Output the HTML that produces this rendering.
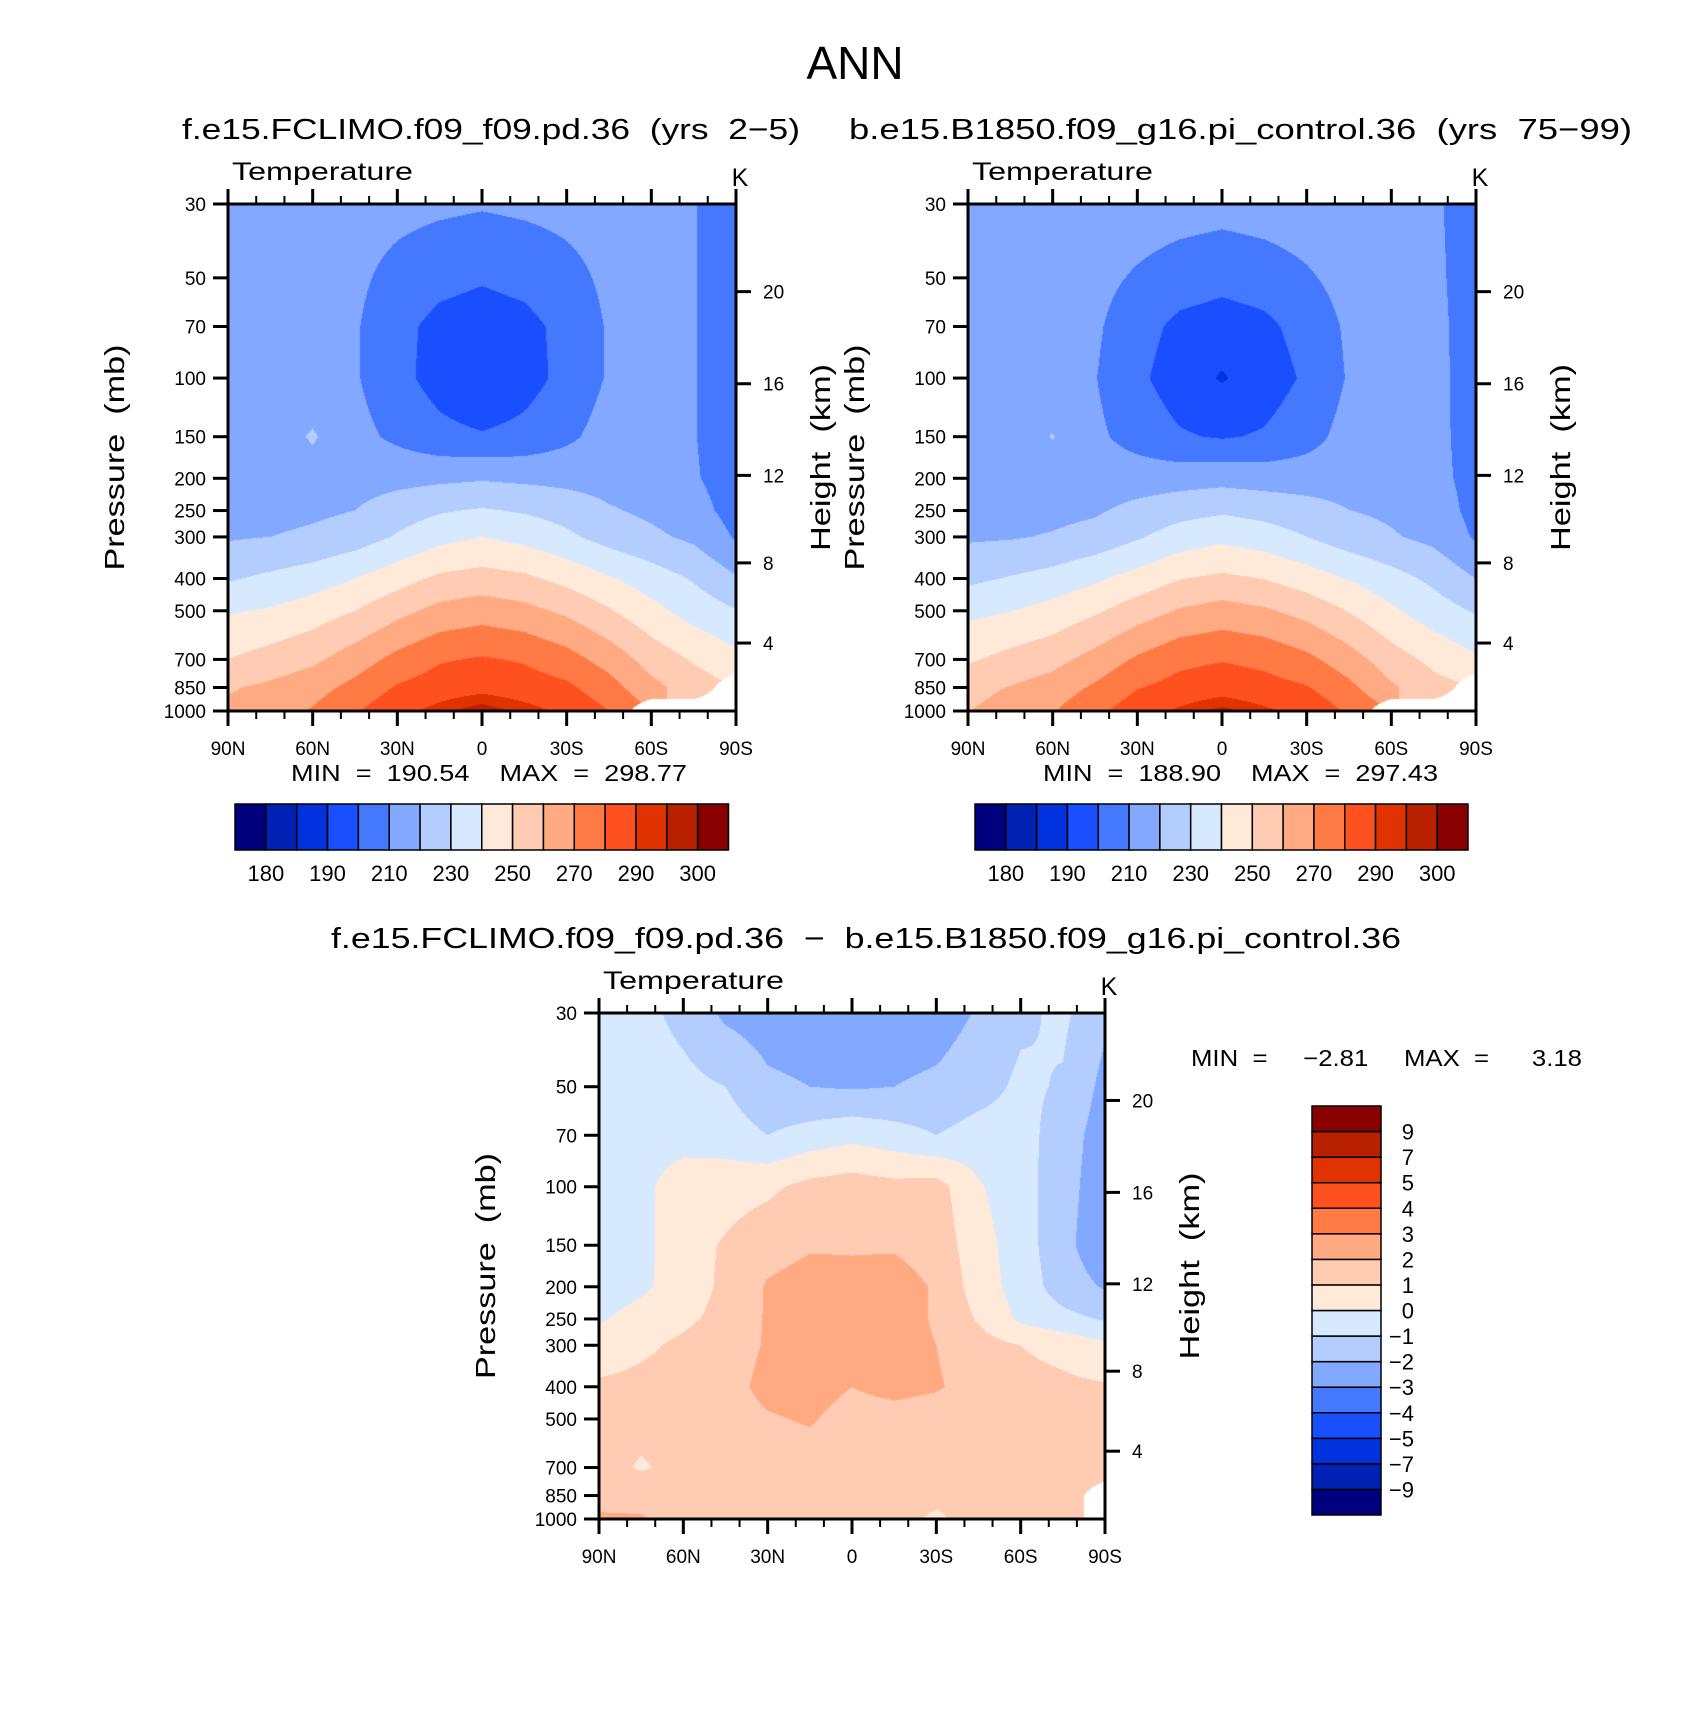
<!DOCTYPE html>
<html><head><meta charset="utf-8">
<style>
html,body{margin:0;padding:0;background:#fff;}
#root{position:relative;width:1702px;height:1727px;overflow:hidden;background:#fff;font-family:"Liberation Sans",sans-serif;}
canvas{position:absolute;}
svg{position:absolute;left:0;top:0;}
svg text{white-space:pre;}
</style></head>
<body>
<div id="root">
<canvas id="c1"></canvas>
<canvas id="c2"></canvas>
<canvas id="c3"></canvas>
<svg id="ov" width="1702" height="1727"></svg>
</div>
<script>
// ---- data ----
const lats = [90,75,60,45,30,15,0,-15,-30,-45,-60,-75,-90];
const plevs = [30,50,70,100,150,200,250,300,400,500,700,850,1000];
const tempLevels = [180,185,190,200,210,220,230,240,250,260,270,280,290,295,300];
const tempLabels = ['180','190','210','230','250','270','290','300'];
const diffLevels = [-9,-7,-5,-4,-3,-2,-1,0,1,2,3,4,5,7,9];
const diffLabels = ['−9','−7','−5','−4','−3','−2','−1','0','1','2','3','4','5','7','9'];
const palette = ['#00007f','#0022b4','#0033dd','#1a4fff','#4478ff','#82a9ff','#b4cdff','#d7e9ff','#ffeada','#ffcbb2','#ffaa82','#ff7a45','#ff5020','#e03300','#b82000','#880000'];
const pressureTicks = [30,50,70,100,150,200,250,300,400,500,700,850,1000];
const heightTickLabels = ['20','16','12','8','4'];
const heightTickP = [55,104,196,359,625];
const latTicks = [90,60,30,0,-30,-60,-90];
const latTickLabels = ['90N','60N','30N','0','30S','60S','90S'];
const N = NaN;
const tempPD = [
[214,214,214,214,213,212,211,212,213,214,214,210.5,204],
[214,214,214,212,207,203,201,203,207,212,214,210.5,204],
[214,214,214,211,203,197,195,197,203,211,214,210.5,204],
[214,214,214,211,203,196,190.6,196,203,211,214,210.5,204],
[214,215,221,213,208,203,201,203,208,214,214,210.5,204],
[214,214,216,216,217,218,219,218,217,216,215,211,205],
[216,216.5,218,220,225,229,231,229,226,221,218,214,206],
[219,220,222,225,231,237,240,237,232,226,222,218,209],
[229,232,235,240,246,252,254,252,247,241,235,229,221],
[239,241,245,250,257,263,265.5,263,258,251,243,236,230.5],
[250,254,258,265,273,279,281,279,274,266,256,249,243],
[259,262,266,273,281,285,287,285,282,274,263,255,N],
[262,265,271,279,287,293,298.5,293,288,280,N,N,N]];
const tempDiff = [
[-0.5,-0.7,-1.3,-2.2,-2.5,-2.6,-2.6,-2.6,-2.5,-1.9,-1.2,-0.8,-1.8],
[-0.4,-0.5,-0.7,-1.0,-1.8,-2.0,-2.1,-2.0,-1.8,-1.4,-0.8,-1.1,-2.3],
[-0.3,-0.3,-0.3,-0.5,-1.0,-0.6,-0.3,-0.6,-1.0,-0.6,-0.6,-1.5,-2.5],
[-0.5,-0.2,0.4,0.6,0.8,1.3,1.5,1.3,1.4,0.1,-0.6,-1.6,-2.6],
[-0.6,-0.3,0.6,1.1,1.6,1.9,1.9,1.9,1.6,0.4,-0.5,-1.7,-2.7],
[-0.6,-0.2,0.5,1.2,2.1,2.4,2.3,2.4,1.9,0.5,-0.4,-1.5,-2.1],
[-0.1,0.4,0.8,1.3,2.1,2.5,2.4,2.4,1.9,0.9,-0.2,-0.7,-1.1],
[0.3,0.8,1.2,1.5,2.1,2.5,2.4,2.4,2.0,1.4,1.0,0.7,0.2],
[1.2,1.3,1.4,1.6,2.3,2.4,2.0,2.3,2.1,1.6,1.3,1.2,1.1],
[1.4,1.3,1.4,1.5,1.9,2.1,1.6,1.6,1.5,1.5,1.4,1.4,1.4],
[1.4,0.9,1.3,1.5,1.5,1.5,1.5,1.5,1.5,1.5,1.5,1.5,1.5],
[1.5,1.6,1.5,1.5,1.5,1.5,1.5,1.5,1.3,1.4,1.5,1.5,N],
[2.2,2.1,1.6,1.5,1.5,1.5,1.5,1.4,0.8,1.5,1.5,1.5,N]];
const tempPI = tempPD.map((r,j)=>r.map((v,i)=>v - tempDiff[j][i]));

// ---- layout ----
const plots = [
 {id:'c1',x0:228,x1:736,y0:204,y1:711,field:tempPD,levels:tempLevels,name:'plot1'},
 {id:'c2',x0:968,x1:1476,y0:204,y1:711,field:tempPI,levels:tempLevels,name:'plot2'},
 {id:'c3',x0:599,x1:1105,y0:1013,y1:1519,field:tempDiff,levels:diffLevels,name:'diff'}];
const lnP = plevs.map(Math.log);
const LP0 = Math.log(30), LP1 = Math.log(1000);
function yOf(p,pl){return pl.y0 + (Math.log(p)-LP0)/(LP1-LP0)*(pl.y1-pl.y0);}
function xOf(lat,pl){return pl.x0 + (90-lat)/180*(pl.x1-pl.x0);}
function hex(c){return [parseInt(c.substr(1,2),16),parseInt(c.substr(3,2),16),parseInt(c.substr(5,2),16)];}
const rgb = palette.map(hex);

function sample(field,fi,lp){
  let i=Math.min(Math.floor(fi),lats.length-2); let tx=fi-i;
  let j=0; while(j<lnP.length-2 && lp>lnP[j+1]) j++;
  let ty=(lp-lnP[j])/(lnP[j+1]-lnP[j]); ty=Math.max(0,Math.min(1,ty));
  const c=[[field[j][i],(1-tx)*(1-ty)],[field[j][i+1],tx*(1-ty)],[field[j+1][i],(1-tx)*ty],[field[j+1][i+1],tx*ty]];
  let s=0,w=0; for(const [v,ww] of c){ if(!isNaN(v)){s+=v*ww;w+=ww;} }
  if(w<0.5) return NaN; return s/w;
}
function render(pl){
  const cv=document.getElementById(pl.id);
  const W=pl.x1-pl.x0, H=pl.y1-pl.y0;
  cv.width=W; cv.height=H; cv.style.left=pl.x0+'px'; cv.style.top=pl.y0+'px';
  const ctx=cv.getContext('2d'); const img=ctx.createImageData(W,H);
  for(let py=0;py<H;py++){
    const lp=LP0+(py+0.5)/H*(LP1-LP0);
    for(let px=0;px<W;px++){
      const fi=(px+0.5)/W*(lats.length-1);
      const v=sample(pl.field,fi,lp); const k=(py*W+px)*4;
      let col=[255,255,255];
      if(!isNaN(v)){ let idx=0; while(idx<pl.levels.length && v>=pl.levels[idx]) idx++; col=rgb[idx]; }
      img.data[k]=col[0];img.data[k+1]=col[1];img.data[k+2]=col[2];img.data[k+3]=255;
    }
  }
  ctx.putImageData(img,0,0);
}
plots.forEach(render);

// ---- overlay ----
const NS='http://www.w3.org/2000/svg';
const ov=document.getElementById('ov');
function el(tag,attrs,parent){const e=document.createElementNS(NS,tag);for(const k in attrs)e.setAttribute(k,attrs[k]);(parent||ov).appendChild(e);return e;}
function txt(s,x,y,size,anchor,parent,extra){const t=el('text',Object.assign({x:x,y:y,'font-size':size,'text-anchor':anchor||'start',fill:'#000','font-family':'Liberation Sans, sans-serif'},extra||{}),parent);t.textContent=s;return t;}

const title=txt('ANN',855,79,46,'middle');


const st1=txt('f.e15.FCLIMO.f09_f09.pd.36  (yrs  2−5)',182,139,29,'start',null,{textLength:618,lengthAdjust:'spacingAndGlyphs'});


const st2=txt('b.e15.B1850.f09_g16.pi_control.36  (yrs  75−99)',849,139,29,'start',null,{textLength:783,lengthAdjust:'spacingAndGlyphs'});


const st3=txt('f.e15.FCLIMO.f09_f09.pd.36  −  b.e15.B1850.f09_g16.pi_control.36',331,948,29,'start',null,{textLength:1070,lengthAdjust:'spacingAndGlyphs'});



plots.forEach(pl=>{
  const g=el('g',{});
  
  
  el('rect',{x:pl.x0,y:pl.y0,width:pl.x1-pl.x0,height:pl.y1-pl.y0,fill:'none',stroke:'#000','stroke-width':3},g);
  for(let lat=90;lat>=-90;lat-=10){
    const x=xOf(lat,pl); const major=(lat%30===0); const L=major?15:8;
    el('line',{x1:x,x2:x,y1:pl.y1,y2:pl.y1+L,stroke:'#000','stroke-width':major?3:2},g);
    el('line',{x1:x,x2:x,y1:pl.y0,y2:pl.y0-L,stroke:'#000','stroke-width':major?3:2},g);
  }
  latTicks.forEach((lat,k)=>{
    const t=txt(latTickLabels[k],xOf(lat,pl),pl.y1+44,19,'middle',g);
    
    
  });
  pressureTicks.forEach(p=>{
    const y=yOf(p,pl);
    el('line',{x1:pl.x0-15,x2:pl.x0,y1:y,y2:y,stroke:'#000','stroke-width':3},g);
    const t=txt(String(p),pl.x0-22,y+7,19,'end',g);
    
    
  });
  heightTickP.forEach((p,k)=>{
    const y=yOf(p,pl);
    el('line',{x1:pl.x1,x2:pl.x1+15,y1:y,y2:y,stroke:'#000','stroke-width':3},g);
    const t=txt(heightTickLabels[k],pl.x1+27,y+7,19,'start',g);
    
    
  });
  const cy=(pl.y0+pl.y1)/2;
  const pxL=pl.x0-104, hxL=pl.x1+94;
  const pt=txt('Pressure  (mb)',pxL,cy,28,'middle',g,{transform:'rotate(-90 '+pxL+' '+cy+')',textLength:226,lengthAdjust:'spacingAndGlyphs'});
  
  
  const ht=txt('Height  (km)',hxL,cy,28,'middle',g,{transform:'rotate(-90 '+hxL+' '+cy+')',textLength:187,lengthAdjust:'spacingAndGlyphs'});
  
  
  const tt=txt('Temperature',pl.x0+4,pl.y0-24,25,'start',g,{textLength:181,lengthAdjust:'spacingAndGlyphs'});
  
  
  const kt=txt('K',pl.x1+4,pl.y0-18,25,'middle',g);
  
  
});

// min/max
[[291,781,'MIN  =  190.54    MAX  =  298.77',396],[1043,781,'MIN  =  188.90    MAX  =  297.43',395],[1191,1066,'MIN  =     −2.81     MAX  =      3.18',391]].forEach((m,k)=>{
  const t=txt(m[2],m[0],m[1],23,'start',null,{textLength:m[3],lengthAdjust:'spacingAndGlyphs',style:'white-space:pre'});
  
  
});

// horizontal colorbars
[[235,728.5],[975,1468]].forEach((cb,k)=>{
  const g=el('g',{});
  
  
  const n=palette.length, w=(cb[1]-cb[0])/n;
  palette.forEach((c,i)=>{
    const r=el('rect',{x:cb[0]+i*w,y:804,width:w,height:46,fill:c,stroke:'#000','stroke-width':1.5},g);
    
    
  });
  tempLabels.forEach((s,i)=>{
    const t=txt(s,cb[0]+(2*i+1)*w,881,22,'middle',g);
    
    
  });
});
// vertical colorbar
(function(){
  const g=el('g',{});
  
  
  const y0=1106,y1=1515,n=palette.length,h=(y1-y0)/n;
  palette.forEach((c,i)=>{
    const r=el('rect',{x:1312,y:y1-(i+1)*h,width:69,height:h,fill:c,stroke:'#000','stroke-width':1.5},g);
    
    
  });
  diffLabels.forEach((s,i)=>{
    const t=txt(s,1414,y1-(i+1)*h+8,22,'end',g);
    
    
  });
})();
</script>
</body></html>
